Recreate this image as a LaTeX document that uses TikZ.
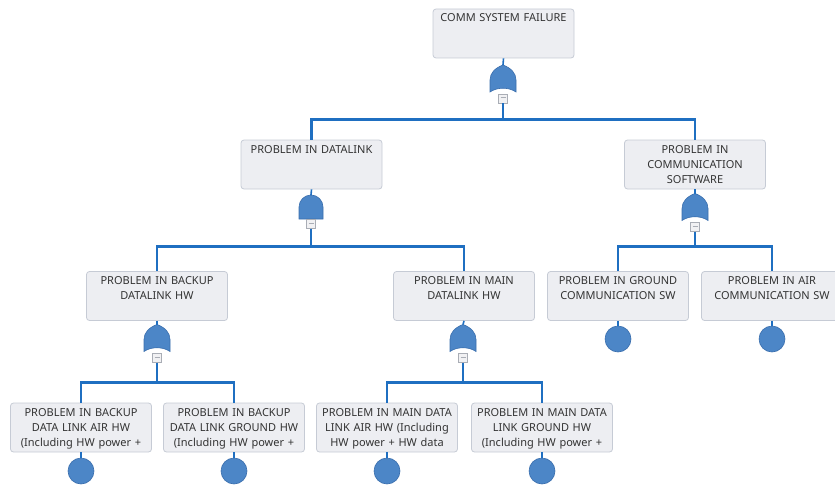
\documentclass[tikz,border=0pt]{standalone}
\usepackage{xcolor}
\usepackage{fontspec}
\setmainfont{Noto Sans}
\usepackage{tikz}
\usetikzlibrary{positioning,calc}

\definecolor{boxfill}{HTML}{EDEEF2}
\definecolor{boxline}{HTML}{C6CBD5}
\definecolor{txtgray}{HTML}{333333}
\definecolor{linkblue}{HTML}{1F6FC1}
\definecolor{gatefill}{HTML}{4C86C7}
\definecolor{gateline}{HTML}{3A6EAD}
\definecolor{minusfill}{HTML}{F1F1F3}
\definecolor{minusline}{HTML}{A9ADB5}

\begin{document}
\begin{tikzpicture}[
					x = 1pt, y = -1pt,
					every node/.style = {font=\fontsize{11}{15}\selectfont, text=txtgray},
					fbox/.style = {draw=boxline, fill=boxfill, line width=0.8, rounded corners=3,
						minimum width=141, text width=141, inner xsep=0, inner ysep=3, align=center,
						text height=10, text depth=33},
					event/.style = {circle, draw=gateline, fill=gatefill, line width=0.6,
						minimum size=26, inner sep=0},
					minusbox/.style = {draw=minusline, fill=minusfill, line width=0.6,
						minimum width=9, minimum height=9, inner sep=0},
					link/.style = {draw=linkblue, line width=2.6},
					thinlink/.style = {draw=linkblue, line width=1.6},
					orgate/.pic = {
						\filldraw[fill=gatefill, draw=gateline, line width=0.6]
							(0,-14) .. controls (-8,-11) and (-13,-6) .. (-13,1) -- (-13,13)
							.. controls (-6,8) and (6,8) .. (13,13) -- (13,1)
							.. controls (13,-6) and (8,-11) .. (0,-14) -- cycle;
						\coordinate (-in) at (0,-14);
						\node[minusbox] (-m) at (0,19.5) {\color{minusline}\rule[1.5pt]{5pt}{1pt}};
					},
					andgate/.pic = {
						\filldraw[fill=gatefill, draw=gateline, line width=0.6]
							(-12,12) -- (-12,0) arc[start angle=180, end angle=360, radius=12]
							-- (12,12) -- cycle;
						\coordinate (-in) at (0,-12);
						\node[minusbox] (-m) at (0,17) {\color{minusline}\rule[1.5pt]{5pt}{1pt}};
					}
					]

					\useasboundingbox (0,0) rectangle (835,487);

					\node[fbox] (top) at (503.5,33.5) {COMM SYSTEM FAILURE};
					\node[fbox] (dl) at (311.5,164.5) {PROBLEM IN DATALINK};
					\node[fbox] (sw) at (695,164.5) {PROBLEM IN\\COMMUNICATION\\SOFTWARE};
					\node[fbox] (bk) at (157,296) {PROBLEM IN BACKUP\\DATALINK HW};
					\node[fbox] (mn) at (464,296) {PROBLEM IN MAIN\\DATALINK HW};
					\node[fbox] (gsw) at (618,296) {PROBLEM IN GROUND\\COMMUNICATION SW};
					\node[fbox] (asw) at (772,296) {PROBLEM IN AIR\\COMMUNICATION SW};
					\node[fbox] (bka) at (81,427.5) {PROBLEM IN BACKUP\\DATA LINK AIR HW\\(Including HW power +};
					\node[fbox] (bkg) at (234,427.5) {PROBLEM IN BACKUP\\DATA LINK GROUND HW\\(Including HW power +};
					\node[fbox] (mna) at (387,427.5) {PROBLEM IN MAIN DATA\\LINK AIR HW (Including\\HW power + HW data};
					\node[fbox] (mng) at (542,427.5) {PROBLEM IN MAIN DATA\\LINK GROUND HW\\(Including HW power +};

					\pic (g0) at (503,79) {orgate};
					\pic (g1) at (311,207) {andgate};
					\pic (g2) at (695,207.5) {orgate};
					\pic (g3) at (157,338.5) {orgate};
					\pic (g4) at (463,338.5) {orgate};

					\node[event] (egsw) at (618,339) {};
					\node[event] (easw) at (772,339) {};
					\node[event] (ebka) at (81,471) {};
					\node[event] (ebkg) at (234,471) {};
					\node[event] (emna) at (387,471) {};
					\node[event] (emng) at (542,471) {};

					\draw[thinlink] (top.south) -- (g0-in);
					\draw[thinlink] (dl.south) -- (g1-in);
					\draw[thinlink] (sw.south) -- (g2-in);
					\draw[thinlink] (bk.south) -- (g3-in);
					\draw[thinlink] (mn.south) -- (g4-in);

					\draw[link] (g0-m.south) -- ++(0,16) -| (dl.north);
					\draw[link] (g0-m.south) -- ++(0,16) -| (sw.north);
					\draw[link] (g1-m.south) -- ++(0,17.5) -| (bk.north);
					\draw[link] (g1-m.south) -- ++(0,17.5) -| (mn.north);
					\draw[link] (g2-m.south) -- ++(0,14.5) -| (gsw.north);
					\draw[link] (g2-m.south) -- ++(0,14.5) -| (asw.north);
					\draw[link] (g3-m.south) -- ++(0,19.5) -| (bka.north);
					\draw[link] (g3-m.south) -- ++(0,19.5) -| (bkg.north);
					\draw[link] (g4-m.south) -- ++(0,19.5) -| (mna.north);
					\draw[link] (g4-m.south) -- ++(0,19.5) -| (mng.north);

					\draw[thinlink] (gsw.south) -- (egsw);
					\draw[thinlink] (asw.south) -- (easw);
					\draw[thinlink] (bka.south) -- (ebka);
					\draw[thinlink] (bkg.south) -- (ebkg);
					\draw[thinlink] (mna.south) -- (emna);
					\draw[thinlink] (mng.south) -- (emng);

				\end{tikzpicture}
\end{document}
